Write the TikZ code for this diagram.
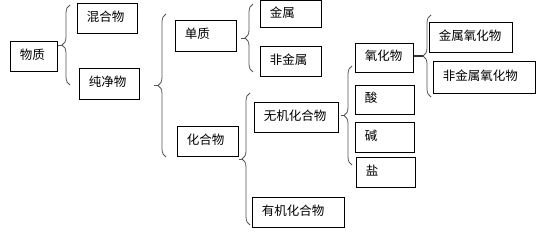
\documentclass[tikz,border=0pt]{standalone}
\usepackage{fontspec}
\usepackage{tikz}
\usetikzlibrary{decorations.pathreplacing}
\newfontfamily\cjk{Noto Sans CJK SC}
\definecolor{bracegray}{HTML}{555555}

\tikzset{
  box/.code 2 args={\pgfmathsetlengthmacro\boxtw{#1-19pt}%
    \tikzset{draw, line width=0.9pt, anchor=north west, inner xsep=9.5pt, inner ysep=0pt,
      minimum width=#1, minimum height=#2, text width=\boxtw, align=left,
      text height=10.5pt, text depth=4.5pt}},
  brc/.style={draw=bracegray, line width=0.8pt, decorate, decoration={brace, amplitude=8pt}},
  stub/.style={draw=bracegray, line width=0.8pt},
}

\begin{document}
\begin{tikzpicture}[x=1pt, y=-1pt, font=\cjk\fontsize{12.5}{14}\selectfont]
\useasboundingbox (0,0) rectangle (540,237);

% ---- Level 1 ----
\node[box={47pt}{30pt}] (matter) at (10,41) {物质};
\node[box={60pt}{30pt}] (mixture) at (77,3) {混合物};
\node[box={60pt}{31pt}] (pure) at (79,68) {纯净物};

% ---- Level 2 ----
\node[box={61pt}{31pt}] (element) at (175,20) {单质};
\node[box={61pt}{30pt}] (compound) at (177,126) {化合物};

% ---- Level 3 ----
\node[box={61pt}{27pt}] (metal) at (260,0.5) {金属};
\node[box={61pt}{30pt}] (nonmetal) at (260,46) {非金属};
\node[box={84pt}{30pt}] (inorganic) at (254,102) {无机化合物};
\node[box={92pt}{30pt}] (organic) at (252,197) {有机化合物};

% ---- Level 4 ----
\node[box={58pt}{29pt}] (oxide) at (355,43) {氧化物};
\node[box={59pt}{29pt}] (acid) at (355,85) {酸};
\node[box={59pt}{30pt}] (base) at (355,122) {碱};
\node[box={59pt}{30pt}] (salt) at (356,157) {盐};

% ---- Level 5 ----
\node[box={83pt}{30pt}] (moxide) at (429,22) {金属氧化物};
\node[box={102pt}{32pt}] (nmoxide) at (433,61) {非金属氧化物};

% ---- Braces ----
\coordinate (aTop) at (70,5);    \coordinate (aBot) at (70,85);
\coordinate (bTop) at (166,14);  \coordinate (bBot) at (166,157);
\coordinate (cTop) at (253,4);   \coordinate (cBot) at (253,72);
\coordinate (dTop) at (250,93);  \coordinate (dBot) at (250,225);
\coordinate (eTop) at (352,66);  \coordinate (eBot) at (352,165);
\coordinate (fTop) at (431,15);  \coordinate (fBot) at (431,97);

\draw[brc] (aBot) -- (aTop);
\draw[brc] (bBot) -- (bTop);
\draw[brc] (cBot) -- (cTop);
\draw[brc] (dBot) -- (dTop);
\draw[brc] (eBot) -- (eTop);
\draw[brc] (fBot) -- (fTop);

% tips and short stubs
\coordinate (aTip) at (62,45);     \coordinate (aEnd) at (58,45);
\coordinate (bTip) at (158,85.5);  \coordinate (bEnd) at (154,85.5);
\coordinate (cTip) at (245,38);    \coordinate (cEnd) at (241,38);
\coordinate (dTip) at (242,159);   \coordinate (dEnd) at (238.5,159);
\coordinate (eTip) at (344,115.5); \coordinate (eEnd) at (340.5,115.5);
\coordinate (fTip) at (423,56);

\draw[stub] (aEnd) -- (aTip);
\draw[stub] (bEnd) -- (bTip);
\draw[stub] (cEnd) -- (cTip);
\draw[stub] (dEnd) -- (dTip);
\draw[stub] (eEnd) -- (eTip);
\draw[stub, draw=black!80, line width=2.5pt] (oxide.east |- fTip) -- (fTip);

\end{tikzpicture}
\end{document}
